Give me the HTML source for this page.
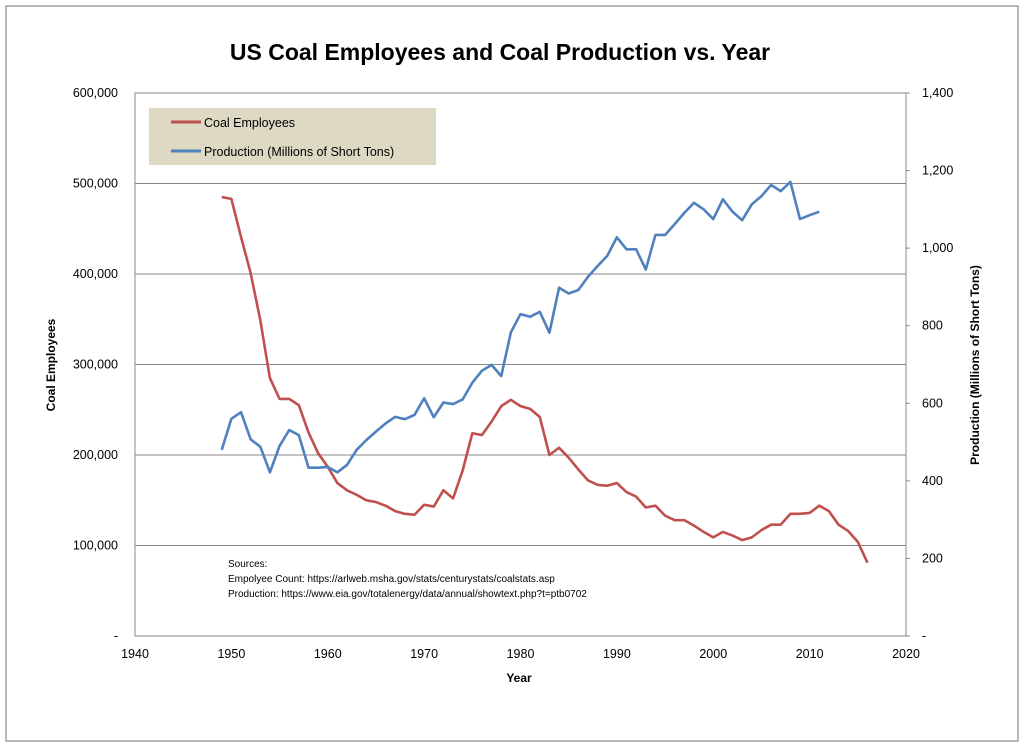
<!DOCTYPE html>
<html><head><meta charset="utf-8"><style>
body{margin:0;background:#fff;}
svg{display:block;font-family:"Liberation Sans",Arial,sans-serif;}
</style></head><body>
<svg id="chart" width="1024" height="747" viewBox="0 0 1024 747">
<rect x="6" y="6" width="1012" height="735" fill="#fff" stroke="#a0a0a0" stroke-width="1.5"/>
<text x="500" y="60" text-anchor="middle" font-size="23" font-weight="bold" fill="#000">US Coal Employees and Coal Production vs. Year</text>
<g id="grid"></g>
<rect x="135" y="93" width="771" height="543" fill="none" stroke="#888" stroke-width="1"/>
<g id="axes"></g>
<text transform="translate(55,365) rotate(-90)" text-anchor="middle" font-size="12" font-weight="bold">Coal Employees</text>
<text transform="translate(979,365) rotate(-90)" text-anchor="middle" font-size="12" font-weight="bold">Production (Millions of Short Tons)</text>
<text x="519" y="682" text-anchor="middle" font-size="12" font-weight="bold">Year</text>
<g id="series"></g>
<g>
<rect x="149" y="108" width="287" height="57" fill="#ddd9c3"/>
<line x1="171" y1="122" x2="201" y2="122" stroke="#c0504d" stroke-width="3"/>
<text x="204" y="127" font-size="12.5">Coal Employees</text>
<line x1="171" y1="151" x2="201" y2="151" stroke="#4f81bd" stroke-width="3"/>
<text x="204" y="156" font-size="12.5">Production (Millions of Short Tons)</text>
</g>
<g font-size="10">
<text x="228" y="567">Sources:</text>
<text x="228" y="582">Empolyee Count: https://arlweb.msha.gov/stats/centurystats/coalstats.asp</text>
<text x="228" y="597">Production: https://www.eia.gov/totalenergy/data/annual/showtext.php?t=ptb0702</text>
</g>
</svg>
<script>
const employeeYears = [1949,1950,1951,1952,1953,1954,1955,1956,1957,1958,1959,1960,1961,1962,1963,1964,1965,1966,1967,1968,1969,1970,1971,1972,1973,1974,1975,1976,1977,1978,1979,1980,1981,1982,1983,1984,1985,1986,1987,1988,1989,1990,1991,1992,1993,1994,1995,1996,1997,1998,1999,2000,2001,2002,2003,2004,2005,2006,2007,2008,2009,2010,2011,2012,2013,2014,2015,2016];
const employeeValues = [485000,483000,441000,401000,349000,285000,262000,262000,255000,225000,202000,187000,169000,161000,156000,150000,148000,144000,138000,135000,134000,145000,143000,161000,152000,183000,224000,222000,237000,254000,261000,254000,251000,242000,200000,208000,197000,184000,172000,167000,166000,169000,159000,154000,142000,144000,133000,128000,128000,122000,115000,109000,115000,111000,106000,109000,117000,123000,123000,135000,135000,136000,144000,138000,123000,116000,104000,81000];
const productionYears = [1949,1950,1951,1952,1953,1954,1955,1956,1957,1958,1959,1960,1961,1962,1963,1964,1965,1966,1967,1968,1969,1970,1971,1972,1973,1974,1975,1976,1977,1978,1979,1980,1981,1982,1983,1984,1985,1986,1987,1988,1989,1990,1991,1992,1993,1994,1995,1996,1997,1998,1999,2000,2001,2002,2003,2004,2005,2006,2007,2008,2009,2010,2011];
const productionValues = [480,560,577,507,488,422,490,531,518,434,434,436,422,441,480,505,527,548,565,559,570,613,564,602,598,610,653,684,699,670,783,830,823,836,782,898,883,892,926,954,980,1028,997,997,945,1034,1034,1062,1091,1117,1100,1075,1126,1094,1072,1113,1134,1163,1147,1171,1075,1085,1094];
const xTicks = [1940,1950,1960,1970,1980,1990,2000,2010,2020];
const leftTicks = [0,100000,200000,300000,400000,500000,600000];
const rightTicks = [0,200,400,600,800,1000,1200,1400];

const NS="http://www.w3.org/2000/svg";
const X0=135,X1=906,Y0=636,Y1=93;
const xs=v=>X0+(v-1940)/80*(X1-X0);
const yl=v=>Y0-v/600000*(Y0-Y1);
const yr=v=>Y0-v/1400*(Y0-Y1);
function mk(tag,attrs,parent){const e=document.createElementNS(NS,tag);for(const k in attrs)e.setAttribute(k,attrs[k]);parent.appendChild(e);return e;}
const grid=document.getElementById('grid'),axes=document.getElementById('axes'),series=document.getElementById('series');
leftTicks.forEach(t=>{
  if(t>0&&t<600000){const g=mk('line',{x1:X0,x2:X1,y1:yl(t),y2:yl(t),stroke:'#888','stroke-width':1},grid);
  
  }
  const tx=mk('text',{x:118,y:yl(t)+4,'text-anchor':'end','font-size':'12.5'},axes);
  tx.textContent=t===0?'-':t.toLocaleString('en-US');
  
  
});
rightTicks.forEach(t=>{
  mk('line',{x1:X1,x2:X1+4,y1:yr(t),y2:yr(t),stroke:'#888'},axes);
  const tx=mk('text',{x:922,y:yr(t)+4,'font-size':'12.5'},axes);
  tx.textContent=t===0?'-':t.toLocaleString('en-US');
  
  
});
xTicks.forEach(t=>{
  const tx=mk('text',{x:xs(t),y:658,'text-anchor':'middle','font-size':'12.5'},axes);
  tx.textContent=t;
  
  
});
const pe=mk('polyline',{points:employeeYears.map((y,i)=>xs(y)+','+yl(employeeValues[i])).join(' '),fill:'none',stroke:'#c0504d','stroke-width':2.6,'stroke-linejoin':'round'},series);


const pp=mk('polyline',{points:productionYears.map((y,i)=>xs(y)+','+yr(productionValues[i])).join(' '),fill:'none',stroke:'#4f81bd','stroke-width':2.6,'stroke-linejoin':'round'},series);


</script>
</body></html>
